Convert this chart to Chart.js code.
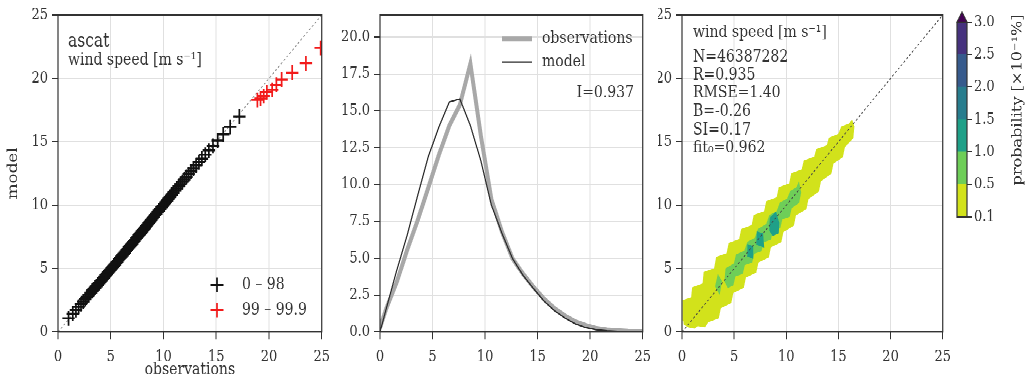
<!DOCTYPE html>
<html>
<head>
<meta charset="utf-8">
<script src="https://cdn.jsdelivr.net/npm/chart.js@4.4.1/dist/chart.umd.min.js"></script>
<style>
  html { overflow: hidden; }
  html, body { margin: 0; padding: 0; background: #fff; height: 378px; }
  /* the original figure is stretched vertically, so is this one */
  #wrap { position: relative; width: 1025px; height: 316px; transform: scaleY(1.196); transform-origin: 0 0; }
  canvas { position: absolute; top: 0; }
</style>
</head>
<body>
<div id="wrap">
  <canvas id="qq" width="337" height="316" style="left:0px"></canvas>
  <canvas id="pdf" width="321" height="316" style="left:337px"></canvas>
  <canvas id="dens" width="300" height="316" style="left:658px"></canvas>
  <canvas id="cbar" width="77" height="316" style="left:948px"></canvas>
</div>
<script>
// ---- data ----
const axisTicks = [0, 5, 10, 15, 20, 25];
const pdfTicks = [0, 2.5, 5, 7.5, 10, 12.5, 15, 17.5, 20];

// quantile-quantile, percentiles 1..98
const qqObs = [1.00,1.40,1.70,1.96,2.18,2.39,2.58,2.75,2.92,3.08,
  3.23,3.37,3.51,3.65,3.78,3.91,4.04,4.16,4.28,4.40,
  4.51,4.63,4.74,4.85,4.96,5.07,5.18,5.29,5.39,5.50,
  5.60,5.71,5.81,5.91,6.01,6.12,6.22,6.32,6.42,6.52,
  6.62,6.73,6.83,6.93,7.03,7.13,7.23,7.34,7.44,7.54,
  7.65,7.75,7.86,7.96,8.07,8.18,8.28,8.39,8.50,8.61,
  8.73,8.84,8.96,9.07,9.19,9.31,9.43,9.56,9.68,9.81,
  9.94,10.07,10.21,10.35,10.49,10.64,10.79,10.94,11.10,11.26,
  11.43,11.61,11.79,11.98,12.18,12.39,12.61,12.84,13.09,13.36,
  13.64,13.96,14.30,14.69,15.14,15.66,16.32,17.19];
const qqMod = [1.08,1.45,1.74,1.99,2.21,2.41,2.60,2.77,2.93,3.08,
  3.22,3.36,3.49,3.62,3.75,3.87,3.99,4.11,4.23,4.34,
  4.45,4.57,4.68,4.79,4.90,5.01,5.12,5.22,5.33,5.43,
  5.54,5.64,5.75,5.85,5.95,6.06,6.16,6.26,6.36,6.46,
  6.57,6.67,6.77,6.88,6.98,7.08,7.19,7.29,7.40,7.50,
  7.61,7.71,7.82,7.93,8.04,8.15,8.25,8.36,8.48,8.59,
  8.71,8.83,8.95,9.07,9.19,9.31,9.44,9.57,9.70,9.83,
  9.96,10.10,10.24,10.38,10.53,10.68,10.83,10.99,11.15,11.32,
  11.49,11.66,11.84,12.03,12.23,12.44,12.66,12.89,13.13,13.39,
  13.67,13.98,14.31,14.68,15.10,15.58,16.18,16.98];
// percentiles 99..99.9
const hiObs = [18.9, 19.2, 19.5, 19.8, 20.3, 20.7, 21.2, 22.2, 23.5, 24.9];
const hiMod = [18.3, 18.4, 18.6, 18.9, 19.1, 19.5, 19.9, 20.45, 21.2, 22.4];

// pdf of wind speed
const pdfX = [0, 0.6, 1.6, 2.6, 3.6, 4.6, 5.6, 6.6, 7.6, 8.6, 9.6, 10.6, 11.6, 12.6,
  13.6, 14.6, 15.6, 16.6, 17.6, 18.6, 19.6, 20.6, 21.6, 22.6, 23.6, 24.6, 25];
const obsPdf = [0.3, 1.6, 3.4, 5.6, 7.6, 9.8, 12.0, 14.0, 15.4, 18.2, 13.3, 9.0, 6.8, 5.0,
  3.95, 3.05, 2.25, 1.6, 1.1, 0.7, 0.45, 0.25, 0.15, 0.1, 0.06, 0.04, 0.03];
const modPdf = [0, 1.6, 4.2, 6.6, 9.3, 11.9, 13.9, 15.6, 15.8, 14.0, 11.6, 8.6, 6.7, 5.0,
  3.85, 2.95, 2.1, 1.45, 0.95, 0.55, 0.3, 0.15, 0.08, 0.04, 0.02, 0.01, 0.01];

// probability contours (obs, model)
const level01 = [[0.15,0.9],[0.1,2.5],[0.9,2.7],[1.0,3.5],[2.0,3.8],[2.1,4.7],[3.1,5.0],[3.3,5.9],
  [4.3,6.2],[4.5,7.0],[5.5,7.3],[5.7,8.1],[6.7,8.4],[6.9,9.2],[7.9,9.5],[8.1,10.3],[9.1,10.6],
  [9.3,11.4],[10.3,11.7],[10.5,12.5],[11.5,12.8],[11.7,13.5],[12.7,13.8],[12.9,14.4],[13.9,14.7],
  [14.1,15.3],[15.0,15.6],[15.3,16.2],[16.0,16.4],[16.3,16.7],
  [16.5,16.2],[16.4,15.3],[15.6,14.6],[15.4,13.8],[14.5,13.3],[14.3,12.5],[13.3,11.9],[13.1,11.1],
  [12.1,10.5],[11.9,9.7],[10.9,9.2],[10.7,8.4],[9.7,7.9],[9.5,7.1],[8.5,6.7],[8.3,5.9],[7.3,5.5],
  [7.1,4.7],[6.1,4.3],[5.9,3.5],[4.9,3.1],[4.7,2.3],[3.7,1.9],[3.5,1.1],[2.5,0.8],[2.2,0.4],
  [1.5,0.5],[1.2,0.3],[0.6,0.4],[0.2,0.6],[0.15,0.9]];
const level05a = [[3.2,3.6],[3.45,4.5],[3.8,4.0],[3.6,3.0],[3.2,3.6]];
const level05b = [[4.1,4.0],[4.2,5.0],[5.0,5.4],[5.2,6.1],[6.0,6.4],[6.3,7.1],[7.0,7.4],[7.3,8.1],
  [8.1,8.5],[8.4,9.2],[9.1,9.5],[9.4,10.2],[10.1,10.5],[10.4,11.1],[11.0,11.4],[11.2,11.8],
  [11.4,11.0],[11.2,10.2],[10.5,9.8],[10.3,9.1],[9.6,8.9],[9.4,8.2],[8.7,8.0],[8.5,7.3],[7.8,7.1],
  [7.6,6.4],[6.9,6.2],[6.7,5.5],[6.0,5.3],[5.8,4.6],[5.1,4.4],[4.9,3.7],[4.4,3.5],[4.1,4.0]];
const level10a = [[6.25,6.0],[6.3,6.9],[6.75,6.75],[6.8,5.8],[6.25,6.0]];
const level10b = [[7.15,6.9],[7.2,7.9],[7.75,7.75],[7.85,6.7],[7.15,6.9]];
const level10c = [[8.4,8.0],[8.45,9.0],[9.0,9.45],[9.3,8.6],[9.25,7.8],[8.7,7.6],[8.4,8.0]];

const cbarLabels = ["0.1", "0.5", "1.0", "1.5", "2.0", "2.5", "3.0"];
const cbarColors = ["#d2e21b", "#6ece58", "#1fa088", "#287d8e", "#375b8d", "#46327e"];

// ---- style ----
Chart.defaults.font.family = "'DejaVu Serif', serif";
Chart.defaults.font.size = 13;
Chart.defaults.color = "#333";
Chart.defaults.animation = false;
Chart.defaults.plugins.legend.display = false;
Chart.defaults.plugins.tooltip.enabled = false;

const ink = "#333";
const gridCol = "#e0e0e0";
const pts = arr => arr.map(([x, y]) => ({ x, y }));

Chart.register({
  id: "frame",
  afterDatasetsDraw(c) {
    const { ctx, chartArea: a } = c;
    ctx.save();
    ctx.strokeStyle = ink;
    ctx.lineWidth = 1.2;
    ctx.strokeRect(a.left, a.top, a.right - a.left, a.bottom - a.top);
    ctx.restore();
  }
});

function txt(ctx, s, x, y, size, align) {
  ctx.font = size + "px 'DejaVu Serif'";
  ctx.fillStyle = ink;
  ctx.textAlign = align || "left";
  ctx.textBaseline = "middle";
  ctx.fillText(s, x, y);
}

function axis(min, max, vals, size, pad, fmt, extra) {
  return Object.assign({
    type: "linear", min, max,
    afterBuildTicks: s => { s.ticks = vals.map(v => ({ value: v })); },
    ticks: { padding: pad, callback: fmt || (v => v) },
    grid: { color: gridCol, tickColor: ink, tickLength: 6 },
    border: { display: false },
    afterFit: s => { if (s.isHorizontal()) s.height = size; else s.width = size; }
  }, extra || {});
}

function diag(color) {
  return { data: [{ x: 0, y: 0 }, { x: 25, y: 25 }], showLine: true, borderColor: color,
    borderWidth: 0.8, borderDash: [2, 2], pointRadius: 0, order: 1 };
}

// ---- quantile-quantile ----
new Chart(document.getElementById("qq"), {
  type: "scatter",
  data: {
    datasets: [
      { data: qqObs.map((x, i) => ({ x, y: qqMod[i] })), pointStyle: "cross", pointRadius: 6.2,
        borderColor: "#111", borderWidth: 1.7, clip: 0, order: 0 },
      { data: hiObs.map((x, i) => ({ x, y: hiMod[i] })), pointStyle: "cross", pointRadius: 6.2,
        borderColor: "#f21a1a", borderWidth: 1.7, clip: 0, order: 0 },
      diag("#888")
    ]
  },
  options: {
    responsive: false, devicePixelRatio: 2,
    layout: { padding: { top: 12.5, right: 14, left: 0, bottom: 0 } },
    scales: {
      x: axis(0, 25, axisTicks, 38.4, 7, null,
        { title: { display: true, text: "observations", font: { size: 14 }, padding: { top: 0, bottom: -2 } } }),
      y: axis(0, 25, axisTicks, 58, 4, null,
        { title: { display: true, text: "model", font: { size: 14 }, padding: { top: 5, bottom: 0 } } })
    }
  },
  plugins: [{
    id: "qqText",
    afterDraw(c) {
      const ctx = c.ctx;
      txt(ctx, "ascat", 68, 35.1, 15.5);
      txt(ctx, "wind speed [m s\u207B\u00B9]", 68, 50.2, 14);
      [["#111", "0 \u2013 98", 238.3], ["#f21a1a", "99 \u2013 99.9", 259.2]].forEach(([col, s, y]) => {
        ctx.save();
        ctx.strokeStyle = col; ctx.lineWidth = 1.7;
        ctx.beginPath();
        ctx.moveTo(210.5, y); ctx.lineTo(223.5, y);
        ctx.moveTo(217, y - 6); ctx.lineTo(217, y + 6);
        ctx.stroke();
        ctx.restore();
        txt(ctx, s, 242, y, 14);
      });
    }
  }]
});

// ---- pdf ----
new Chart(document.getElementById("pdf"), {
  type: "scatter",
  data: {
    datasets: [
      { data: pdfX.map((x, i) => ({ x, y: modPdf[i] })), showLine: true, borderColor: "#2b2b2b",
        borderWidth: 1.2, pointRadius: 0, clip: 0 },
      { data: pdfX.map((x, i) => ({ x, y: obsPdf[i] })), showLine: true, borderColor: "#a8a8a8",
        borderWidth: 4, pointRadius: 0, clip: 0 }
    ]
  },
  options: {
    responsive: false, devicePixelRatio: 2,
    layout: { padding: { top: 12.5, right: 13, left: 0, bottom: 0 } },
    scales: {
      x: axis(0, 25, axisTicks, 38.4, 7),
      y: axis(0, 21.5, pdfTicks, 43, 4, v => v.toFixed(1))
    }
  },
  plugins: [{
    id: "pdfText",
    afterDraw(c) {
      const ctx = c.ctx;
      ctx.save();
      ctx.strokeStyle = "#a8a8a8"; ctx.lineWidth = 4;
      ctx.beginPath(); ctx.moveTo(165, 32.6); ctx.lineTo(195, 32.6); ctx.stroke();
      ctx.strokeStyle = "#2b2b2b"; ctx.lineWidth = 1.2;
      ctx.beginPath(); ctx.moveTo(165, 51.8); ctx.lineTo(195, 51.8); ctx.stroke();
      ctx.restore();
      txt(ctx, "observations", 205, 32.6, 14);
      txt(ctx, "model", 205, 51.8, 14);
      txt(ctx, "I=0.937", 297, 77.8, 14, "right");
    }
  }]
});

// ---- joint density ----
const poly = (arr, color, order) => ({ data: pts(arr), showLine: true, fill: "shape",
  backgroundColor: color, borderColor: color, borderWidth: 0.6, pointRadius: 0, order });

new Chart(document.getElementById("dens"), {
  type: "scatter",
  data: {
    datasets: [
      diag("#444"),
      poly(level01, cbarColors[0], 5),
      poly(level05a, cbarColors[1], 4),
      poly(level05b, cbarColors[1], 4),
      poly(level10a, cbarColors[2], 3),
      poly(level10b, cbarColors[2], 3),
      poly(level10c, cbarColors[2], 3)
    ]
  },
  options: {
    responsive: false, devicePixelRatio: 2,
    layout: { padding: { top: 12.5, right: 11, left: 0, bottom: 0 } },
    scales: {
      x: axis(0, 25, axisTicks, 38.4, 7),
      y: axis(0, 25, axisTicks, 24, 4)
    }
  },
  plugins: [{
    id: "densText",
    afterDraw(c) {
      const ctx = c.ctx;
      txt(ctx, "wind speed [m s\u207B\u00B9]", 35, 27.6, 14);
      const lines = ["N=46387282", "R=0.935", "RMSE=1.40", "B=-0.26", "SI=0.17", "fit\u2080=0.962"];
      const ys = [47.7, 62.7, 77.8, 93.6, 108.7, 123.7];
      lines.forEach((s, i) => txt(ctx, s, 35, ys[i], 14));
    }
  }]
});

// ---- colour bar ----
new Chart(document.getElementById("cbar"), {
  type: "bar",
  data: {
    labels: ["p"],
    datasets: cbarColors.map(col => ({ data: [1], backgroundColor: col, borderWidth: 0,
      barPercentage: 1, categoryPercentage: 1 }))
  },
  options: {
    responsive: false, devicePixelRatio: 2,
    layout: { padding: { top: 18.4, right: 0, left: 9, bottom: 134.6 } },
    scales: {
      x: { display: false, stacked: true },
      y: {
        stacked: true, position: "right", min: 0, max: 6,
        afterBuildTicks: s => { s.ticks = cbarLabels.map((l, i) => ({ value: i })); },
        ticks: { padding: 2, callback: v => cbarLabels[v] },
        grid: { drawOnChartArea: false, tickColor: ink, tickLength: 5 },
        border: { display: false },
        afterFit: s => { s.width = 58; }
      }
    }
  },
  plugins: [{
    id: "cbarExtra",
    afterDraw(c) {
      const { ctx, chartArea: a } = c;
      ctx.save();
      ctx.fillStyle = "#440154";
      ctx.strokeStyle = ink; ctx.lineWidth = 1;
      ctx.beginPath();
      ctx.moveTo(a.left, a.top); ctx.lineTo((a.left + a.right) / 2, a.top - 8.4); ctx.lineTo(a.right, a.top);
      ctx.closePath(); ctx.fill(); ctx.stroke();
      ctx.translate(70, 83.6);
      ctx.rotate(-Math.PI / 2);
      txt(ctx, "probability [\u00D710\u207B\u00B9%]", 0, 0, 13.5, "center");
      ctx.restore();
    }
  }]
});
</script>
</body>
</html>
